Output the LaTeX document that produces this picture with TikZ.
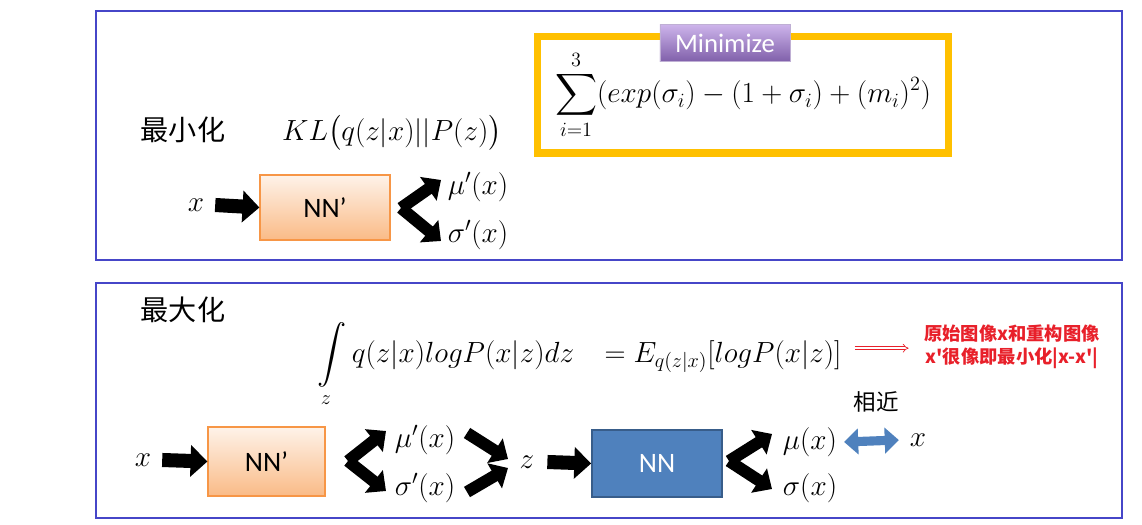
\documentclass[tikz,border=0pt]{standalone}
\usepackage{amsmath}
\usepackage{fontspec}
\setsansfont{Carlito}
\newfontfamily\cjk{Noto Sans CJK SC}
\usetikzlibrary{arrows.meta,positioning}

\definecolor{panelblue}{RGB}{70,70,200}
\definecolor{nnorange}{RGB}{247,150,70}
\definecolor{nnblue}{RGB}{79,129,189}
\definecolor{nnbluedark}{RGB}{56,93,138}
\definecolor{boxyellow}{RGB}{255,192,0}
\definecolor{notered}{RGB}{232,32,42}
\definecolor{purpletop}{RGB}{205,180,235}
\definecolor{purplebot}{RGB}{128,96,170}

\begin{document}
\begin{tikzpicture}[x=0.025cm, y=-0.025cm]
      \tikzset{
	  panel/.style={draw=panelblue, line width=1.2pt},
	  encbox/.style={rectangle, draw=nnorange, top color=nnorange!12!white, bottom color=nnorange!65!white, line width=0.8pt, minimum width=3.25cm, minimum height=1.625cm, font=\sffamily\fontsize{20}{24}\selectfont},
	  decbox/.style={rectangle, draw=nnbluedark, fill=nnblue, line width=1.2pt, text=white, minimum width=3.25cm, minimum height=1.675cm, font=\sffamily\fontsize{20}{24}\selectfont},
	  mathtxt/.style={inner sep=2pt, font=\fontsize{20}{24}\selectfont},
	  cjktxt/.style={inner sep=2pt, font=\cjk\fontsize{20}{24}\selectfont},
	  sumbox/.style={rectangle, draw=boxyellow, line width=5pt, minimum width=10.25cm, minimum height=2.9cm, font=\fontsize{20.5}{24}\selectfont},
	  minimize/.style={rectangle, top color=purpletop, bottom color=purplebot, draw=purplebot!50!white, text=white, minimum width=3.25cm, minimum height=0.925cm, inner sep=2pt, font=\sffamily\fontsize{19}{22}\selectfont},
	  notetxt/.style={align=center, text=notered, inner sep=2pt, font=\cjk\bfseries\fontsize{13}{16}\selectfont},
	  blk/.style={line width=10pt, -{Triangle[width=22pt,length=12pt]}},
	  chev/.style={line width=8.5pt, -{Triangle[width=20pt,length=11pt]}},
	  simarrow/.style={line width=6.5pt, draw=nnblue, {Triangle[width=18pt,length=10pt]}-{Triangle[width=18pt,length=10pt]}},
	  notearrow/.style={draw=notered, line width=0.5pt, double, double distance=1.6pt, -{Implies[length=6pt]}}
      }
      \useasboundingbox (0,0) rectangle (1142,525);

      % top part: KL term
      \draw[panel] (96,11) rectangle (1122,260);
      \node at (183,130) [cjktxt] (minlabel) {最小化};
      \node at (392,133) [mathtxt] (kl) {$KL\bigl(q(z|x)||P(z)\bigr)$};
      \node at (743,95) [sumbox] (sum) {$\displaystyle\sum_{i=1}^{3}(exp(\sigma_i)-(1+\sigma_i)+(m_i)^2)$};
      \node at (725,43) [minimize] (minimize) {Minimize};

      \node at (196,205) [mathtxt] (x1) {$x$};
      \node at (325,207.5) [encbox] (enc1) {NN’};
      \node at (478,187) [mathtxt] (mu1) {$\mu'(x)$};
      \node at (478,235) [mathtxt] (sig1) {$\sigma'(x)$};
      \coordinate (j1) at (401,208);
      \coordinate (t1a) at (441,180);
      \coordinate (t1b) at (441,241);

      \draw[blk] (x1.east) ++(8,0) -- (enc1.west);
      \draw[chev] (j1) -- (t1a);
      \draw[chev] (j1) -- (t1b);

      % bottom part: reconstruction term
      \draw[panel] (96,283) rectangle (1122,518);
      \node at (183,310) [cjktxt] (maxlabel) {最大化};
      \node at (446,362) [mathtxt, anchor=base] (intl) {$\displaystyle\int\limits_{z} q(z|x)logP(x|z)dz$};
      \node at (723,362) [mathtxt, anchor=base] (elbo) {$=E_{q(z|x)}[logP(x|z)]$};
      \node at (1012,347) [notetxt] (note) {原始图像x和重构图像\\x'很像即最小化|x-x'|};
      \draw[notearrow] (elbo.east) ++(10,-8) coordinate (r0) -- ++(54,0) coordinate (r1);

      \node at (143,460) [mathtxt] (x2) {$x$};
      \node at (266.5,461.5) [encbox, minimum width=2.925cm, minimum height=1.725cm] (enc2) {NN’};
      \node at (425,440) [mathtxt] (mu2) {$\mu'(x)$};
      \node at (425,488) [mathtxt] (sig2) {$\sigma'(x)$};
      \node at (527,462) [mathtxt] (z) {$z$};
      \node at (657,463.5) [decbox] (dec) {NN};
      \node at (810,442) [mathtxt] (mu3) {$\mu(x)$};
      \node at (810,488) [mathtxt] (sig3) {$\sigma(x)$};
      \node at (918,440) [mathtxt] (xr) {$x$};
      \node at (876,402) [cjktxt, font=\cjk\fontsize{16}{20}\selectfont] (near) {相近};

      \coordinate (j2) at (348,461);
      \coordinate (t2a) at (386,431);
      \coordinate (t2b) at (386,491);
      \coordinate (m1) at (467,433);
      \coordinate (m2) at (467,492);
      \coordinate (tz1) at (508,459);
      \coordinate (tz2) at (508,468);
      \coordinate (j3) at (729,461);
      \coordinate (t3a) at (772,434);
      \coordinate (t3b) at (772,489);

      \draw[blk] (x2.east) ++(8,0) -- (enc2.west);
      \draw[chev] (j2) -- (t2a);
      \draw[chev] (j2) -- (t2b);
      \draw[chev] (m1) -- (tz1);
      \draw[chev] (m2) -- (tz2);
      \draw[blk] (z.east) ++(10,0) -- (dec.west);
      \draw[chev] (j3) -- (t3a);
      \draw[chev] (j3) -- (t3b);
      \draw[simarrow] (mu3.east) ++(4,0) -- ([xshift=-0.2cm]xr.west);
\end{tikzpicture}
\end{document}
